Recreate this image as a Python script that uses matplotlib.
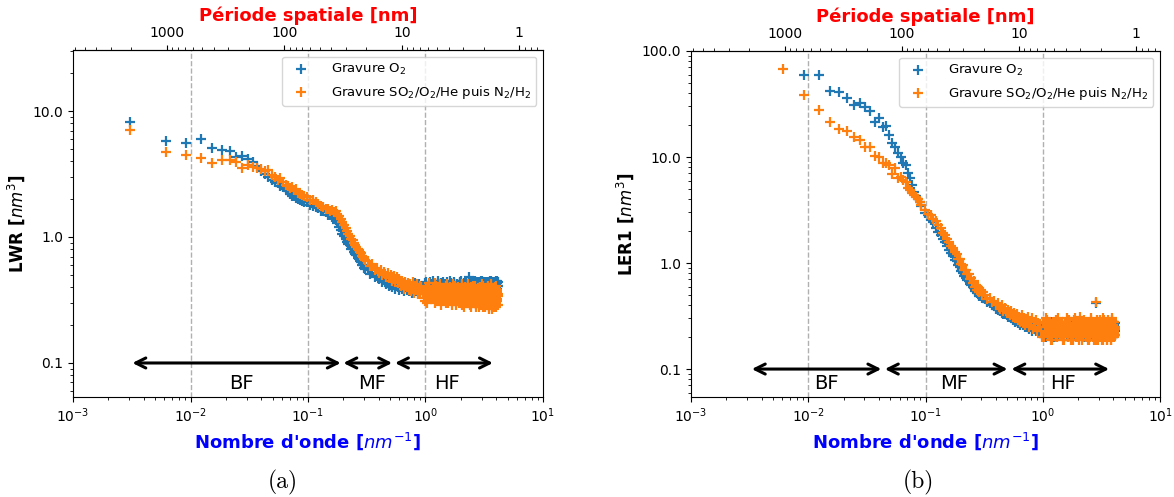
import numpy as np
import matplotlib
matplotlib.use("Agg")
import matplotlib.pyplot as plt
from matplotlib.ticker import FixedLocator, FormatStrFormatter, FuncFormatter, LogLocator, NullFormatter

# ---------------- data ----------------
DF = 0.00307  # wavenumber step [nm^-1]; wavenumber = index * DF

K_MID = np.arange(32, 101, 2)
K_HIGH = np.arange(105, 301, 5)
K_HF = np.arange(310, 1351, 10)
K_HF2 = np.arange(315, 1346, 10)

# ---- (a) LWR ----
lwr_o2_k0 = 1
lwr_o2_low = [8.2, 5.8, 5.6, 6.0, 5.1, 4.9, 4.85, 4.3, 4.4, 4.15, 3.95, 3.65, 3.35, 3.15, 3.0,
              2.85, 2.75, 2.7, 2.55, 2.5, 2.4, 2.3, 2.2, 2.1, 2.1, 2.05, 2.0, 1.95, 1.92, 1.9]
lwr_o2_mid = [1.88, 1.80, 1.76, 1.72, 1.70, 1.62, 1.60, 1.57, 1.50, 1.49, 1.44, 1.42, 1.36, 1.28, 1.20,
              1.13, 1.05, 1.01, 0.97, 0.92, 0.88, 0.86, 0.81, 0.80, 0.76, 0.73, 0.72, 0.68, 0.67, 0.64,
              0.63, 0.60, 0.60, 0.57, 0.56]
lwr_o2_high = [0.55, 0.51, 0.52, 0.48, 0.49, 0.46, 0.47, 0.44, 0.46, 0.42, 0.44, 0.41, 0.43, 0.40, 0.42,
               0.39, 0.43, 0.40, 0.38, 0.41, 0.39, 0.42, 0.37, 0.40, 0.38, 0.42, 0.37, 0.40, 0.39, 0.36,
               0.41, 0.38, 0.43, 0.37, 0.40, 0.36, 0.42, 0.39, 0.35, 0.41]
lwr_o2_hf = [0.41, 0.36, 0.44, 0.38, 0.34, 0.42, 0.39, 0.45, 0.35, 0.40, 0.37, 0.43, 0.33, 0.41, 0.38,
             0.44, 0.36, 0.40, 0.34, 0.42, 0.39, 0.37, 0.45, 0.35, 0.41, 0.38, 0.43, 0.36, 0.40, 0.34,
             0.42, 0.37, 0.39, 0.44, 0.35, 0.41, 0.38, 0.33, 0.43, 0.40, 0.36, 0.45, 0.37, 0.39, 0.42,
             0.48, 0.35, 0.43, 0.38, 0.41, 0.34, 0.44, 0.37, 0.40, 0.36, 0.42, 0.39, 0.33, 0.44, 0.38,
             0.40, 0.36, 0.43, 0.38, 0.34, 0.45, 0.39, 0.41, 0.35, 0.42, 0.37, 0.44, 0.36, 0.40, 0.38,
             0.43, 0.34, 0.41, 0.37, 0.44, 0.39, 0.35, 0.42, 0.38, 0.45, 0.36, 0.40, 0.33, 0.43, 0.39,
             0.37, 0.42, 0.35, 0.44, 0.39, 0.36, 0.41, 0.38, 0.45, 0.34, 0.40, 0.43, 0.37, 0.41, 0.44]
lwr_o2_hf2 = [0.38, 0.43, 0.35, 0.40, 0.44, 0.37, 0.41, 0.34, 0.42, 0.39, 0.45, 0.36, 0.40, 0.43, 0.35,
              0.39, 0.42, 0.37, 0.44, 0.34, 0.40, 0.38, 0.43, 0.36, 0.41, 0.33, 0.44, 0.39, 0.37, 0.42,
              0.35, 0.40, 0.43, 0.38, 0.45, 0.36, 0.41, 0.34, 0.39, 0.42, 0.37, 0.44, 0.35, 0.40, 0.38,
              0.43, 0.36, 0.41, 0.39, 0.34, 0.44, 0.37, 0.42, 0.35, 0.40, 0.45, 0.38, 0.36, 0.43, 0.39,
              0.41, 0.34, 0.44, 0.37, 0.40, 0.35, 0.42, 0.38, 0.45, 0.36, 0.41, 0.39, 0.33, 0.43, 0.37,
              0.40, 0.44, 0.35, 0.42, 0.38, 0.36, 0.43, 0.39, 0.41, 0.34, 0.45, 0.37, 0.40, 0.42, 0.36,
              0.39, 0.44, 0.35, 0.41, 0.38, 0.43, 0.37, 0.40, 0.34, 0.42, 0.39, 0.45, 0.36, 0.41]

lwr_so2_k0 = 1
lwr_so2_low = [7.05, 4.75, 4.45, 4.25, 3.9, 4.1, 4.1, 3.95, 3.5, 3.7, 3.6, 3.55, 3.45, 3.35, 3.4,
               3.1, 3.0, 2.85, 2.95, 2.75, 2.6, 2.55, 2.45, 2.5, 2.35, 2.4, 2.25, 2.2, 2.15, 2.1]
lwr_so2_mid = [2.08, 1.98, 1.95, 1.88, 1.82, 1.76, 1.72, 1.68, 1.66, 1.62, 1.64, 1.58, 1.60, 1.52, 1.46,
               1.40, 1.32, 1.24, 1.18, 1.12, 1.06, 1.02, 0.97, 0.94, 0.90, 0.87, 0.84, 0.80, 0.79, 0.76,
               0.74, 0.71, 0.70, 0.67, 0.66]
lwr_so2_high = [0.64, 0.59, 0.61, 0.55, 0.57, 0.52, 0.55, 0.50, 0.53, 0.48, 0.52, 0.47, 0.50, 0.45, 0.49,
                0.44, 0.48, 0.43, 0.46, 0.41, 0.45, 0.42, 0.39, 0.44, 0.40, 0.43, 0.38, 0.42, 0.37, 0.41,
                0.44, 0.36, 0.40, 0.38, 0.42, 0.35, 0.39, 0.41, 0.36, 0.40]
lwr_so2_hf = [0.36, 0.31, 0.40, 0.34, 0.43, 0.32, 0.38, 0.35, 0.30, 0.41, 0.33, 0.37, 0.42, 0.31, 0.36,
              0.39, 0.33, 0.35, 0.30, 0.42, 0.37, 0.32, 0.40, 0.34, 0.29, 0.38, 0.35, 0.41, 0.31, 0.36,
              0.33, 0.39, 0.30, 0.37, 0.34, 0.42, 0.29, 0.36, 0.32, 0.40, 0.35, 0.31, 0.38, 0.33, 0.41,
              0.30, 0.36, 0.34, 0.39, 0.28, 0.35, 0.41, 0.32, 0.37, 0.30, 0.40, 0.33, 0.29, 0.38, 0.34,
              0.31, 0.37, 0.28, 0.35, 0.40, 0.32, 0.36, 0.29, 0.39, 0.33, 0.41, 0.30, 0.35, 0.28, 0.38,
              0.34, 0.29, 0.37, 0.31, 0.40, 0.33, 0.28, 0.36, 0.39, 0.30, 0.35, 0.42, 0.32, 0.27, 0.37,
              0.33, 0.38, 0.29, 0.35, 0.31, 0.40, 0.28, 0.36, 0.34, 0.30, 0.39, 0.32, 0.37, 0.29, 0.35]
lwr_so2_hf2 = [0.33, 0.38, 0.30, 0.41, 0.35, 0.32, 0.39, 0.36, 0.43, 0.31, 0.37, 0.34, 0.40, 0.29, 0.35,
               0.38, 0.32, 0.41, 0.34, 0.30, 0.37, 0.39, 0.33, 0.36, 0.42, 0.31, 0.35, 0.38, 0.29, 0.34,
               0.40, 0.32, 0.37, 0.35, 0.30, 0.41, 0.33, 0.38, 0.28, 0.36, 0.39, 0.31, 0.34, 0.42, 0.32,
               0.37, 0.29, 0.35, 0.40, 0.33, 0.38, 0.30, 0.36, 0.31, 0.41, 0.34, 0.28, 0.39, 0.32, 0.36,
               0.30, 0.38, 0.33, 0.40, 0.29, 0.35, 0.37, 0.31, 0.42, 0.34, 0.28, 0.36, 0.39, 0.32, 0.35,
               0.29, 0.38, 0.33, 0.36, 0.41, 0.30, 0.34, 0.27, 0.37, 0.32, 0.40, 0.35, 0.29, 0.38, 0.31,
               0.36, 0.28, 0.34, 0.39, 0.32, 0.37, 0.30, 0.41, 0.33, 0.28, 0.36, 0.31, 0.38, 0.34]

# ---- (b) LER1 ----
ler_o2_k0 = 3
ler_o2_low = [59.4, 59.4, 42.2, 41.3, 35.8, 30.9, 32.1, 29.8, 27.4, 21.5, 23.2, 19.1, 19.5, 16.2,
              13.5, 12.5, 10.8, 10.1, 8.7, 8.4, 7.0, 6.3, 5.5, 4.7, 4.3, 4.0, 3.75, 3.45]
ler_o2_mid = [2.95, 2.82, 2.55, 2.42, 2.12, 1.97, 1.82, 1.68, 1.57, 1.44, 1.33, 1.24, 1.17, 1.07, 1.04,
              0.95, 0.91, 0.84, 0.81, 0.75, 0.73, 0.69, 0.68, 0.63, 0.62, 0.59, 0.58, 0.55, 0.55, 0.52,
              0.52, 0.49, 0.49, 0.47, 0.47]
ler_o2_high = [0.46, 0.43, 0.42, 0.40, 0.39, 0.37, 0.36, 0.35, 0.34, 0.33, 0.33, 0.32, 0.31, 0.31, 0.30,
               0.29, 0.30, 0.28, 0.29, 0.27, 0.28, 0.26, 0.28, 0.26, 0.27, 0.25, 0.27, 0.25, 0.26, 0.24,
               0.27, 0.25, 0.23, 0.26, 0.24, 0.25, 0.23, 0.26, 0.24, 0.22]
ler_o2_hf = [0.24, 0.21, 0.27, 0.23, 0.20, 0.26, 0.22, 0.28, 0.21, 0.25, 0.23, 0.27, 0.20, 0.24, 0.22,
             0.26, 0.21, 0.24, 0.20, 0.27, 0.23, 0.22, 0.28, 0.21, 0.25, 0.22, 0.26, 0.20, 0.24, 0.23,
             0.25, 0.21, 0.23, 0.27, 0.20, 0.24, 0.22, 0.26, 0.21, 0.28, 0.23, 0.25, 0.20, 0.24, 0.22,
             0.27, 0.21, 0.25, 0.22, 0.26, 0.20, 0.24, 0.23, 0.28, 0.21, 0.25, 0.22, 0.27, 0.20, 0.24,
             0.23, 0.26, 0.42, 0.21, 0.25, 0.22, 0.27, 0.20, 0.24, 0.23, 0.28, 0.21, 0.25, 0.22, 0.26,
             0.20, 0.24, 0.23, 0.27, 0.21, 0.25, 0.22, 0.28, 0.20, 0.24, 0.23, 0.26, 0.21, 0.25, 0.22,
             0.27, 0.20, 0.24, 0.22, 0.26, 0.21, 0.25, 0.23, 0.28, 0.20, 0.24, 0.22, 0.26, 0.21, 0.25]
ler_o2_hf2 = [0.22, 0.26, 0.20, 0.24, 0.27, 0.21, 0.25, 0.23, 0.28, 0.20, 0.24, 0.22, 0.26, 0.21, 0.25,
              0.23, 0.27, 0.20, 0.24, 0.22, 0.26, 0.21, 0.28, 0.23, 0.25, 0.20, 0.24, 0.27, 0.22, 0.21,
              0.25, 0.23, 0.26, 0.20, 0.28, 0.22, 0.24, 0.21, 0.27, 0.23, 0.25, 0.20, 0.26, 0.22, 0.24,
              0.21, 0.27, 0.23, 0.25, 0.20, 0.28, 0.22, 0.24, 0.26, 0.21, 0.23, 0.27, 0.20, 0.25, 0.22,
              0.24, 0.28, 0.21, 0.26, 0.23, 0.20, 0.25, 0.22, 0.27, 0.21, 0.24, 0.23, 0.26, 0.20, 0.28,
              0.22, 0.25, 0.21, 0.24, 0.27, 0.23, 0.20, 0.26, 0.22, 0.25, 0.21, 0.28, 0.23, 0.24, 0.20,
              0.27, 0.22, 0.25, 0.21, 0.26, 0.23, 0.24, 0.20, 0.28, 0.22, 0.25, 0.21, 0.27, 0.23]

ler_so2_k0 = 2
ler_so2_low = [67.7, 38.4, 27.7, 21.5, 18.4, 17.6, 15.6, 14.5, 12.5, 12.3, 10.2, 10.1, 8.8, 8.7, 8.4,
               6.9, 7.8, 6.3, 6.5, 6.1, 5.8, 5.1, 4.9, 4.6, 4.4, 4.2, 4.0, 3.75, 3.5]
ler_so2_mid = [3.15, 2.92, 2.85, 2.58, 2.48, 2.28, 2.15, 1.92, 1.84, 1.68, 1.58, 1.46, 1.40, 1.26, 1.22,
               1.10, 1.08, 0.97, 0.95, 0.86, 0.86, 0.78, 0.78, 0.71, 0.72, 0.65, 0.67, 0.60, 0.62, 0.56,
               0.59, 0.53, 0.56, 0.50, 0.53]
ler_so2_high = [0.50, 0.46, 0.47, 0.43, 0.44, 0.40, 0.42, 0.37, 0.40, 0.35, 0.38, 0.34, 0.36, 0.32, 0.35,
                0.31, 0.34, 0.30, 0.33, 0.29, 0.31, 0.28, 0.32, 0.27, 0.30, 0.26, 0.29, 0.27, 0.31, 0.25,
                0.28, 0.26, 0.30, 0.24, 0.28, 0.25, 0.29, 0.23, 0.27, 0.25]
ler_so2_hf = [0.25, 0.20, 0.28, 0.22, 0.30, 0.21, 0.26, 0.23, 0.19, 0.27, 0.22, 0.29, 0.20, 0.24, 0.26,
              0.21, 0.28, 0.23, 0.19, 0.26, 0.22, 0.30, 0.20, 0.25, 0.23, 0.27, 0.19, 0.24, 0.21, 0.29,
              0.22, 0.26, 0.20, 0.28, 0.23, 0.19, 0.25, 0.31, 0.21, 0.24, 0.27, 0.20, 0.23, 0.26, 0.22,
              0.28, 0.21, 0.24, 0.19, 0.27, 0.22, 0.25, 0.20, 0.29, 0.23, 0.26, 0.21, 0.24, 0.19, 0.27,
              0.22, 0.25, 0.43, 0.20, 0.28, 0.23, 0.19, 0.26, 0.21, 0.29, 0.24, 0.20, 0.27, 0.22, 0.25,
              0.19, 0.26, 0.22, 0.29, 0.20, 0.24, 0.27, 0.21, 0.25, 0.19, 0.28, 0.23, 0.20, 0.26, 0.22,
              0.24, 0.20, 0.27, 0.22, 0.19, 0.26, 0.23, 0.29, 0.21, 0.25, 0.20, 0.28, 0.22, 0.24, 0.21]
ler_so2_hf2 = [0.23, 0.27, 0.20, 0.25, 0.29, 0.21, 0.24, 0.19, 0.28, 0.22, 0.26, 0.20, 0.30, 0.23, 0.25,
               0.21, 0.27, 0.19, 0.24, 0.28, 0.22, 0.26, 0.20, 0.29, 0.23, 0.25, 0.21, 0.27, 0.19, 0.24,
               0.30, 0.22, 0.26, 0.20, 0.28, 0.23, 0.25, 0.21, 0.27, 0.19, 0.24, 0.29, 0.22, 0.26, 0.20,
               0.28, 0.23, 0.25, 0.21, 0.27, 0.19, 0.24, 0.30, 0.22, 0.26, 0.20, 0.28, 0.23, 0.25, 0.21,
               0.27, 0.19, 0.24, 0.29, 0.22, 0.26, 0.20, 0.28, 0.23, 0.25, 0.21, 0.27, 0.19, 0.24, 0.30,
               0.22, 0.26, 0.20, 0.28, 0.23, 0.25, 0.21, 0.27, 0.19, 0.24, 0.29, 0.22, 0.26, 0.20, 0.28,
               0.23, 0.25, 0.21, 0.27, 0.19, 0.24, 0.30, 0.22, 0.26, 0.20, 0.28, 0.23, 0.25, 0.21]

legend_labels = ["Gravure O$_2$", "Gravure SO$_2$/O$_2$/He puis N$_2$/H$_2$"]
band_names = ["BF", "MF", "HF"]
# band limits (wavenumber, nm^-1) for each panel
bands_a = [(0.0032, 0.19), (0.2, 0.52), (0.55, 3.75)]
bands_b = [(0.0033, 0.042), (0.045, 0.5), (0.54, 3.68)]
band_text_a = [0.027, 0.35, 1.52]
band_text_b = [0.0144, 0.177, 1.49]
ylabels = ["LWR [$nm^3$]", "LER1 [$nm^3$]"]
captions = ["(a)", "(b)"]


def series(k0, low, mid, high, hf, hf2):
    k = np.concatenate([np.arange(k0, k0 + len(low)), K_MID, K_HIGH, K_HF, K_HF2])
    y = np.concatenate([low, mid, high, hf, hf2])
    return k * DF, y


# ---------------- figure ----------------
fig = plt.figure(figsize=(11.74, 4.97), dpi=100)
ax_a = fig.add_axes([0.0622, 0.2012, 0.4003, 0.6982])
ax_b = fig.add_axes([0.5886, 0.2012, 0.3995, 0.6962])

panels = [
    (ax_a, series(lwr_o2_k0, lwr_o2_low, lwr_o2_mid, lwr_o2_high, lwr_o2_hf, lwr_o2_hf2),
     series(lwr_so2_k0, lwr_so2_low, lwr_so2_mid, lwr_so2_high, lwr_so2_hf, lwr_so2_hf2),
     (0.0537, 30.5), [0.1, 1.0, 10.0], bands_a, band_text_a, 0.1, 0.069),
    (ax_b, series(ler_o2_k0, ler_o2_low, ler_o2_mid, ler_o2_high, ler_o2_hf, ler_o2_hf2),
     series(ler_so2_k0, ler_so2_low, ler_so2_mid, ler_so2_high, ler_so2_hf, ler_so2_hf2),
     (0.0545, 100.0), [0.1, 1.0, 10.0, 100.0], bands_b, band_text_b, 0.1, 0.073),
]

for i, (ax, s1, s2, ylim, yt, bands, btxt, yarr, ytxt) in enumerate(panels):
    ax.set_xscale("log")
    ax.set_yscale("log")
    ax.set_xlim(1e-3, 1e1)
    ax.set_ylim(*ylim)
    for xv in [0.01, 0.1, 1.0]:
        ax.axvline(xv, color="#b0b0b0", ls="--", lw=1.0, zorder=0)
    ax.scatter(s1[0], s1[1], marker="+", s=55, linewidths=1.6, color="#1f77b4",
               label=legend_labels[0], zorder=2)
    ax.scatter(s2[0], s2[1], marker="+", s=55, linewidths=1.6, color="#ff7f0e",
               label=legend_labels[1], zorder=3)
    ax.yaxis.set_major_locator(FixedLocator(yt))
    ax.yaxis.set_major_formatter(FormatStrFormatter("%.1f"))
    ax.yaxis.set_minor_locator(LogLocator(base=10, subs=np.arange(2, 10)))
    ax.yaxis.set_minor_formatter(NullFormatter())
    ax.set_xlabel("Nombre d'onde [$nm^{-1}$]", color="blue", fontweight="bold", fontsize=13)
    ax.set_ylabel(ylabels[i], fontweight="bold", fontsize=12)
    for (x0, x1) in bands:
        ax.annotate("", xy=(x1, yarr), xytext=(x0, yarr),
                    arrowprops=dict(arrowstyle="<->", lw=2.2, color="black",
                                    mutation_scale=18, shrinkA=0, shrinkB=0))
    for name, xt in zip(band_names, btxt):
        ax.text(xt, ytxt, name, fontsize=14, ha="center", va="center")
    ax.legend(loc="upper right", fontsize=9.5, scatterpoints=1, handletextpad=1.3)

    sec = ax.secondary_xaxis("top", functions=(lambda x: 2 * np.pi / x, lambda x: 2 * np.pi / x))
    sec.set_xticks([1000, 100, 10, 1])
    sec.xaxis.set_major_formatter(FuncFormatter(lambda v, p: "%g" % v))
    sec.set_xlabel("Période spatiale [nm]", color="red", fontweight="bold", fontsize=13)

fig.text(0.2405, 0.03, captions[0], fontsize=17, family="cmr10", ha="center", va="center")
fig.text(0.782, 0.03, captions[1], fontsize=17, family="cmr10", ha="center", va="center")

fig.savefig("out.png", dpi=100)
